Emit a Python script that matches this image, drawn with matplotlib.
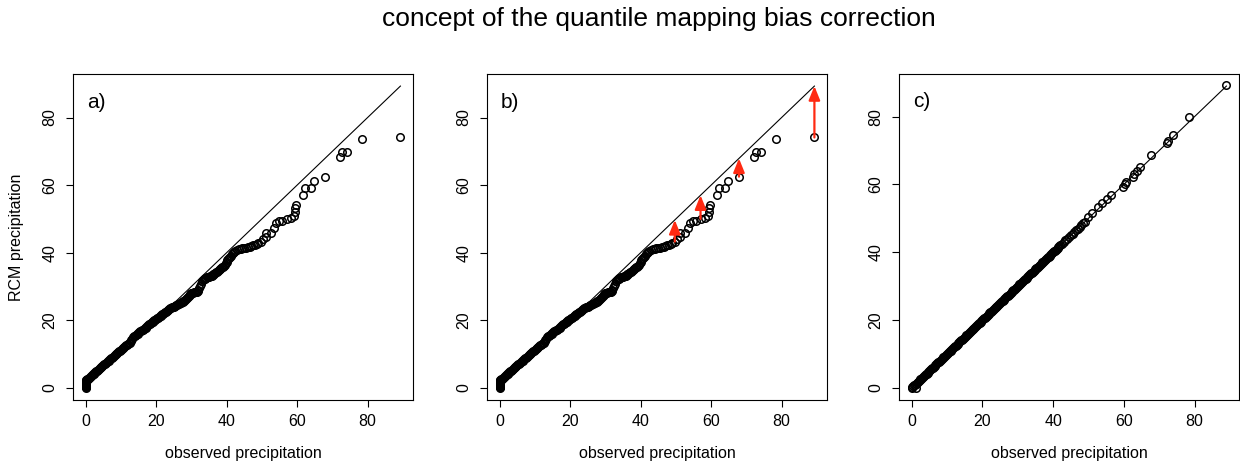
import matplotlib
matplotlib.use("Agg")
import matplotlib.pyplot as plt

plt.rcParams['font.family'] = ['Liberation Sans', 'DejaVu Sans']

# observed vs RCM quantiles
# dry days: observed 0 but the RCM drizzles
obs_zero = [0.0] * 12
rcm_zero = [0.0, 0.2, 0.4, 0.6, 0.8, 1.0, 1.2, 1.4, 1.6, 1.8, 2.0, 2.2]

# dense part of the curve
obs_dense = [
    0.25, 0.5, 0.75, 1.0, 1.25, 1.5, 1.75, 2.0,
    2.25, 2.5, 2.75, 3.0, 3.25, 3.5, 3.75, 4.0,
    4.25, 4.5, 4.75, 5.0, 5.25, 5.5, 5.75, 6.0,
    6.25, 6.5, 6.75, 7.0, 7.25, 7.5, 7.75, 8.0,
    8.25, 8.5, 8.75, 9.0, 9.25, 9.5, 9.75, 10.0,
    10.25, 10.5, 10.75, 11.0, 11.25, 11.5, 11.75, 12.0,
    12.25, 12.5, 12.75, 13.0, 13.25, 13.5, 13.75, 14.0,
    14.25, 14.5, 14.75, 15.0, 15.25, 15.5, 15.75, 16.0,
    16.25, 16.5, 16.75, 17.0, 17.25, 17.5, 17.75, 18.0,
    18.25, 18.5, 18.75, 19.0, 19.25, 19.5, 19.75, 20.0,
    20.25, 20.5, 20.75, 21.0, 21.25, 21.5, 21.75, 22.0,
    22.25, 22.5, 22.75, 23.0, 23.25, 23.5, 23.75, 24.0,
    24.25, 24.5, 24.75, 25.0, 25.25, 25.5, 25.75, 26.0,
    26.25, 26.5, 26.75, 27.0, 27.25, 27.5, 27.75, 28.0,
    28.25, 28.5, 28.75, 29.0, 29.25, 29.5, 29.75, 30.0,
    30.25, 30.5, 30.75, 31.0, 31.25, 31.5, 31.75, 32.0,
    32.25, 32.5, 32.75, 33.0, 33.25, 33.5, 33.75, 34.0,
    34.25, 34.5, 34.75, 35.0, 35.25, 35.5, 35.75, 36.0,
    36.25, 36.5, 36.75, 37.0, 37.25, 37.5, 37.75, 38.0,
    38.25, 38.5, 38.75, 39.0, 39.25, 39.5, 39.75, 40.0,
    40.25, 40.5, 40.75, 41.0, 41.25, 41.5, 41.75, 42.0]
rcm_dense = [
    2.4, 2.5, 2.75, 3.0, 3.25, 3.5, 3.75, 4.0,
    4.2, 4.4, 4.65, 4.9, 5.15, 5.4, 5.6, 5.8,
    6.05, 6.3, 6.55, 6.8, 7.0, 7.2, 7.45, 7.7,
    7.9, 8.1, 8.35, 8.6, 8.8, 9.0, 9.25, 9.5,
    9.7, 9.9, 10.15, 10.4, 10.6, 10.8, 11.05, 11.3,
    11.5, 11.7, 11.95, 12.2, 12.4, 12.6, 12.8, 13.0,
    13.2, 13.4, 13.8, 14.2, 14.6, 15.0, 15.25, 15.5,
    15.7, 15.9, 16.1, 16.3, 16.5, 16.7, 16.85, 17.0,
    17.2, 17.4, 17.6, 17.8, 18.05, 18.3, 18.55, 18.8,
    19.0, 19.2, 19.4, 19.6, 19.8, 20.0, 20.2, 20.4,
    20.6, 20.8, 21.0, 21.2, 21.4, 21.6, 21.8, 22.0,
    22.2, 22.4, 22.6, 22.8, 23.0, 23.2, 23.4, 23.6,
    23.75, 23.9, 23.95, 24.0, 24.15, 24.3, 24.45, 24.6,
    24.75, 24.9, 25.05, 25.2, 25.35, 25.5, 25.65, 25.8,
    26.0, 26.2, 26.5, 26.8, 27.15, 27.5, 27.75, 28.0,
    28.1, 28.2, 28.25, 28.3, 28.35, 28.4, 28.65, 28.9,
    29.55, 30.2, 30.85, 31.5, 31.85, 32.2, 32.35, 32.5,
    32.6, 32.7, 32.8, 32.9, 33.0, 33.1, 33.25, 33.4,
    33.6, 33.8, 34.0, 34.2, 34.4, 34.6, 34.85, 35.1,
    35.3, 35.5, 35.7, 35.9, 36.2, 36.5, 36.9, 37.3,
    37.75, 38.2, 38.5, 38.8, 39.15, 39.5, 39.8, 40.1]

# upper tail
obs_tail = [42.5, 43.0, 43.5, 44.0, 44.5, 45.0, 45.5, 46.0, 46.5, 47.0,
            47.5, 48.0, 48.5, 49.0, 49.7, 50.4, 51.1, 51.2, 52.6, 53.4,
            54.1, 54.8, 55.6, 57.0, 58.4, 59.0, 59.4, 59.5, 59.7, 61.7,
            62.1, 64.0, 64.8, 67.9, 72.2, 72.7, 74.2, 78.5, 89.3]
rcm_tail = [40.5, 40.8, 41.0, 41.2, 41.3, 41.4, 41.5, 41.6, 41.8, 42.0,
            42.2, 42.4, 42.6, 42.8, 43.3, 44.0, 44.7, 45.9, 45.9, 47.2,
            48.8, 49.4, 49.5, 50.0, 50.4, 51.0, 51.9, 53.2, 54.2, 57.2,
            59.1, 59.2, 61.3, 62.5, 68.3, 69.9, 69.9, 73.7, 74.1]

obs_q = obs_zero + obs_dense + obs_tail
rcm_q = rcm_zero + rcm_dense + rcm_tail

# corrected RCM: the dense part lies on the 1:1 line, the tail is read separately
obs_c_tail = [50.0, 51.1, 52.6, 53.9, 55.2, 56.4, 59.8, 60.2, 60.6, 62.5,
              62.9, 63.7, 64.6, 67.7, 72.1, 72.5, 74.0, 78.3, 89.0]
rcm_c_tail = [50.3, 51.7, 53.2, 54.6, 55.8, 56.8, 59.2, 60.0, 60.8, 62.3,
              63.1, 64.1, 65.2, 68.7, 72.2, 72.7, 74.7, 80.0, 89.3]
obs_c = [0.0, 1.2] + obs_dense + obs_tail[:14] + obs_c_tail
rcm_c = [0.0, 0.0] + obs_dense + obs_tail[:14] + rcm_c_tail

# correction arrows in panel b
arrow_x = [49.7, 57.0, 67.9, 89.3]
arrow_from = [43.3, 50.0, 62.5, 74.1]
arrow_to = [49.7, 57.0, 67.9, 89.3]

panel_tags = ['a)', 'b)', 'c)']
ticks = [0, 20, 40, 60, 80]

W, H = 1240, 465
fig = plt.figure(figsize=(W / 100, H / 100), dpi=100)

lefts = [73, 487, 899]
axes = []
for left in lefts:
    ax = fig.add_axes([left / W, 65 / H, 340 / W, 326 / H])
    axes.append(ax)

datasets = [(obs_q, rcm_q), (obs_q, rcm_q), (obs_c, rcm_c)]
for i, ax in enumerate(axes):
    x, y = datasets[i]
    top = max(x)
    ax.plot([0, top], [0, top], color='black', lw=0.8, zorder=1)
    ax.plot(x, y, ls='none', marker='o', ms=5.4, mfc='none', mec='black',
            mew=1.1, zorder=2)
    ext = top * 0.04
    ax.set_xlim(-ext, top + ext)
    ax.set_ylim(-ext, top + ext)
    ax.set_xticks(ticks)
    ax.set_yticks(ticks)
    ax.tick_params(direction='out', length=5, width=0.8, labelsize=11.5)
    ax.tick_params(axis='x', pad=5)
    ax.tick_params(axis='y', pad=6, labelrotation=90)
    for lab in ax.get_yticklabels():
        lab.set_va('center')
    for s in ax.spines.values():
        s.set_linewidth(0.8)
    ax.text(0.3, 84.5, panel_tags[i], fontsize=15, ha='left', va='center')
    ax.set_xlabel('observed precipitation', fontsize=11.5)
    ax.xaxis.set_label_coords(0.5, -0.14)
    ax.xaxis.label.set_va('top')

axes[0].set_ylabel('RCM precipitation', fontsize=11.5)
axes[0].yaxis.set_label_coords(-0.145, 0.5)

for xa, y0, y1 in zip(arrow_x, arrow_from, arrow_to):
    axes[1].annotate('', xy=(xa, y1), xytext=(xa, y0),
                     arrowprops=dict(arrowstyle='-|>,head_length=0.42,head_width=0.17',
                                     color='#FF2A12', lw=1.6, mutation_scale=20,
                                     shrinkA=0, shrinkB=0), zorder=3)

fig.text(659 / W, 1 - 26 / H, 'concept of the quantile mapping bias correction',
         fontsize=19, ha='center', va='baseline')

fig.savefig('out.png', dpi=100)
